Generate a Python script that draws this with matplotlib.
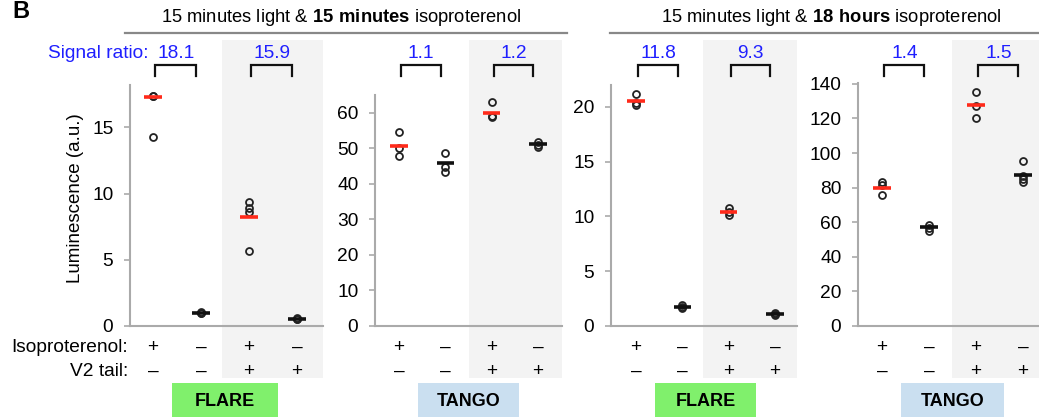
import numpy as np
import matplotlib
matplotlib.use('Agg')
import matplotlib.pyplot as plt
import matplotlib.transforms as mtransforms
from matplotlib.patches import Rectangle

plt.rcParams['font.family'] = ['Liberation Sans', 'DejaVu Sans']
plt.rcParams['mathtext.fontset'] = 'custom'
plt.rcParams['mathtext.rm'] = 'Liberation Sans'
plt.rcParams['mathtext.bf'] = 'Liberation Sans:bold'

# ---- data ----
titles = [r'15 minutes light & $\mathbf{15\ minutes}$ isoproterenol',
          r'15 minutes light & $\mathbf{18\ hours}$ isoproterenol']
panel_names = ['FLARE', 'TANGO', 'FLARE', 'TANGO']
iso_signs = ['+', '\u2013', '+', '\u2013']
v2_signs = ['\u2013', '\u2013', '+', '+']

flare_15min = [[17.4, 17.35, 14.3], [1.05, 0.95, 1.0], [9.4, 8.9, 8.6, 5.7], [0.6, 0.5, 0.55]]
flare_15min_mean = [17.3, 1.0, 8.2, 0.55]
tango_15min = [[54.5, 50.0, 47.8], [48.8, 44.8, 43.4], [63.0, 59.2, 58.7], [51.8, 51.0, 50.4]]
tango_15min_mean = [50.7, 45.8, 60.0, 51.1]
flare_18h = [[21.2, 20.4, 20.2], [1.9, 1.7, 1.6], [10.8, 10.4, 10.1], [1.2, 1.1, 1.0]]
flare_18h_mean = [20.5, 1.75, 10.4, 1.1]
tango_18h = [[83.5, 81.5, 75.5], [58.5, 56.5, 55.0], [135.5, 127.0, 120.5], [95.5, 87.0, 85.0, 83.0]]
tango_18h_mean = [79.8, 57.0, 128.0, 87.5]

signal_ratios = [[18.1, 15.9], [1.1, 1.2], [11.8, 9.3], [1.4, 1.5]]
ylims = [18.2, 65, 22, 140.5]
yticks = [np.arange(0, 16, 5), np.arange(0, 61, 10), np.arange(0, 21, 5), np.arange(0, 141, 20)]

all_points = [flare_15min, tango_15min, flare_18h, tango_18h]
all_means = [flare_15min_mean, tango_15min_mean, flare_18h_mean, tango_18h_mean]

# ---- layout (pixels) ----
W, H = 1039, 417
fig = plt.figure(figsize=(W / 100, H / 100), dpi=100)

def fx(p):
    return p / W

def fy(p):
    return 1 - p / H

# left, right, first group, last group, top, shade start
layout = [(130, 323, 153, 297, 85, 222),
          (375, 562, 399, 538, 95, 469),
          (611, 797, 636, 775, 85, 703),
          (858, 1039, 882, 1023, 83, 952)]
bottom = 326
shade_col = '#f3f3f3'
spine_col = '#aaaaaa'
blue = '#1f1fff'
box_cols = {'FLARE': '#80f06c', 'TANGO': '#cadff0'}
fs = 13.8

for i, (l, r, g0, g3, t, sh) in enumerate(layout):
    ax = fig.add_axes([fx(l), fy(bottom), (r - l) / W, (bottom - t) / H])
    ax.set_facecolor('none')
    s = (g3 - g0) / 3.0
    xmin, xmax = (l - g0) / s, (r - g0) / s
    ax.set_xlim(xmin, xmax)
    ax.set_ylim(0, ylims[i])
    ax.set_yticks(yticks[i])
    ax.set_xticks([])
    for side in ['top', 'right']:
        ax.spines[side].set_visible(False)
    for side in ['left', 'bottom']:
        ax.spines[side].set_color(spine_col)
        ax.spines[side].set_linewidth(1.5)
    ax.tick_params(axis='y', length=4, width=1.2, color=spine_col, pad=8, labelsize=fs)

    trans = mtransforms.blended_transform_factory(ax.transData, fig.transFigure)
    # shaded block for the V2-tail pair
    x_sh = (sh - g0) / s
    ax.add_patch(Rectangle((x_sh, fy(378)), xmax - x_sh, fy(40) - fy(378),
                           transform=trans, facecolor=shade_col, edgecolor='none',
                           clip_on=False, zorder=0))

    for g in range(4):
        pts = all_points[i][g]
        ax.plot([g] * len(pts), pts, 'o', ms=5, mfc='none', mec='#222222', mew=1.3,
                clip_on=False, zorder=3)
        col = '#ff2a1a' if g % 2 == 0 else '#111111'
        ax.hlines(all_means[i][g], g - 0.19, g + 0.19, colors=col, lw=2.6, zorder=4)
        ax.text(g, fy(347), iso_signs[g], transform=trans, ha='center', va='center', fontsize=fs)
        ax.text(g, fy(371), v2_signs[g], transform=trans, ha='center', va='center', fontsize=fs)

    # brackets with signal ratios
    for k, ratio in enumerate(signal_ratios[i]):
        a, b = 2 * k + 0.05, 2 * k + 0.9
        ax.plot([a, a, b, b], [fy(76), fy(65), fy(65), fy(76)], color='#111111', lw=1.6,
                transform=trans, clip_on=False, solid_joinstyle='miter')
        ax.text((a + b) / 2, fy(53), f'{ratio}', transform=trans, ha='center', va='center',
                fontsize=fs, color=blue)

    # construct label box
    name = panel_names[i]
    ax.add_patch(Rectangle((1.5 - 1.1, fy(417)), 2.2, fy(383) - fy(417), transform=trans,
                           facecolor=box_cols[name], edgecolor='none', clip_on=False))
    ax.text(1.5, fy(401), name, transform=trans, ha='center', va='center',
            fontsize=13, fontweight='bold')

# header titles and rules
fig.text(fx(341), fy(17), titles[0], ha='center', va='center', fontsize=13.2)
fig.text(fx(831), fy(17), titles[1], ha='center', va='center', fontsize=13.2)
fig.add_artist(plt.Line2D([fx(125), fx(567)], [fy(33), fy(33)], color='#888888', lw=1.6))
fig.add_artist(plt.Line2D([fx(610), fx(1039)], [fy(33), fy(33)], color='#888888', lw=1.6))

fig.text(fx(12), fy(12), 'B', ha='left', va='center', fontsize=17, fontweight='bold')
fig.text(fx(149), fy(53), 'Signal ratio:', ha='right', va='center', fontsize=fs, color=blue)
fig.text(fx(75), fy(198), 'Luminescence (a.u.)', ha='center', va='center', rotation=90, fontsize=13.5)
fig.text(fx(128), fy(347), 'Isoproterenol:', ha='right', va='center', fontsize=fs)
fig.text(fx(128), fy(371), 'V2 tail:', ha='right', va='center', fontsize=fs)

plt.savefig('out.png', dpi=100)
